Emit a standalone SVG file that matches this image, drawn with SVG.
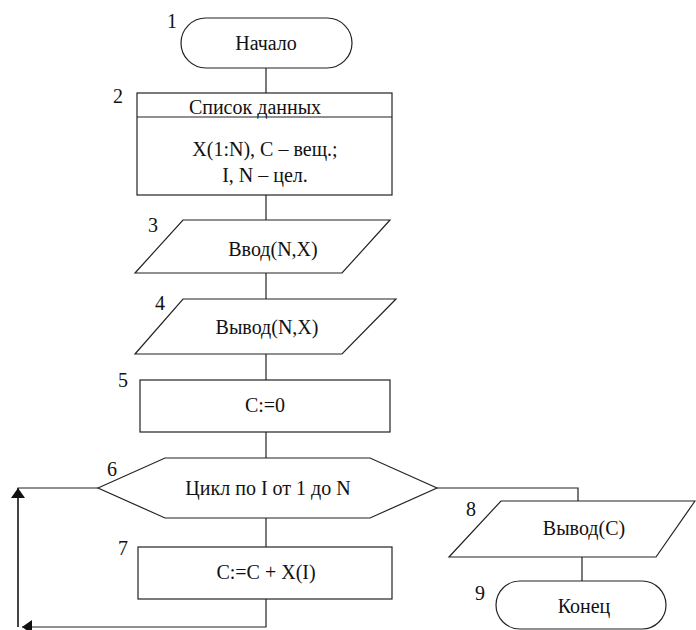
<svg xmlns="http://www.w3.org/2000/svg" width="696" height="630" viewBox="0 0 696 630">
<defs>
<style>
.s{fill:#fff;stroke:#222;stroke-width:1.2}
.c{fill:none;stroke:#222;stroke-width:1.2}
.m{text-anchor:middle}
</style>
<marker id="ah" markerWidth="10" markerHeight="14" refX="10" refY="7" orient="auto" markerUnits="userSpaceOnUse">
<path d="M0,0 L10,7 L0,14 z" fill="#111"/>
</marker>
</defs>
<g id="connectors">
<path class="c" d="M266,68 V93"/>
<path class="c" d="M266,195 V220"/>
<path class="c" d="M266,273 V299"/>
<path class="c" d="M266,354 V380"/>
<path class="c" d="M266,432 V458"/>
<path class="c" d="M266,518 V547"/>
<path class="c" d="M266,599 V627 H22" marker-end="url(#ah)"/>
<path class="c" d="M98,488 H18 V627"/>
<path class="c" d="M18,627 V488" marker-end="url(#ah)"/>
<path class="c" d="M437,488 H578 V501"/>
<path class="c" d="M582,557 V581"/>
</g>
<g font-family="'Liberation Serif', 'Times New Roman', Times, serif" font-size="20" fill="#111">
<g id="n1">
<rect class="s" x="181" y="18" width="171" height="50" rx="25"/>
<text class="m" x="266" y="50">Начало</text>
<text x="167" y="28">1</text>
</g>
<g id="n2">
<rect class="s" x="137" y="93" width="255" height="102"/>
<path class="c" d="M137,117 H392"/>
<text class="m" x="255" y="114">Список данных</text>
<text class="m" x="265" y="156">X(1:N), С – вещ.;</text>
<text class="m" x="265" y="182">I, N – цел.</text>
<text x="113" y="103">2</text>
</g>
<g id="n3">
<polygon class="s" points="183,220 390,220 342,273 135,273"/>
<text class="m" x="273" y="256">Ввод(N,X)</text>
<text x="148" y="232">3</text>
</g>
<g id="n4">
<polygon class="s" points="183,299 396,299 342,354 135,354"/>
<text class="m" x="267" y="334">Вывод(N,X)</text>
<text x="155" y="310">4</text>
</g>
<g id="n5">
<rect class="s" x="140" y="380" width="250" height="52"/>
<text class="m" x="265" y="412">C:=0</text>
<text x="118" y="387">5</text>
</g>
<g id="n6">
<polygon class="s" points="98,488 165,458 370,458 437,488 370,518 165,518"/>
<text class="m" x="268" y="495">Цикл по I от 1 до N</text>
<text x="107" y="476">6</text>
</g>
<g id="n7">
<rect class="s" x="138" y="547" width="254" height="52"/>
<text class="m" x="266" y="579">C:=C + X(I)</text>
<text x="118" y="555">7</text>
</g>
<g id="n8">
<polygon class="s" points="501,501 695,501 656,557 449,557"/>
<text class="m" x="584" y="535">Вывод(С)</text>
<text x="466" y="516">8</text>
</g>
<g id="n9">
<rect class="s" x="496" y="581" width="170" height="48" rx="24"/>
<text class="m" x="584" y="613">Конец</text>
<text x="475" y="600">9</text>
</g>
</g>
</svg>
